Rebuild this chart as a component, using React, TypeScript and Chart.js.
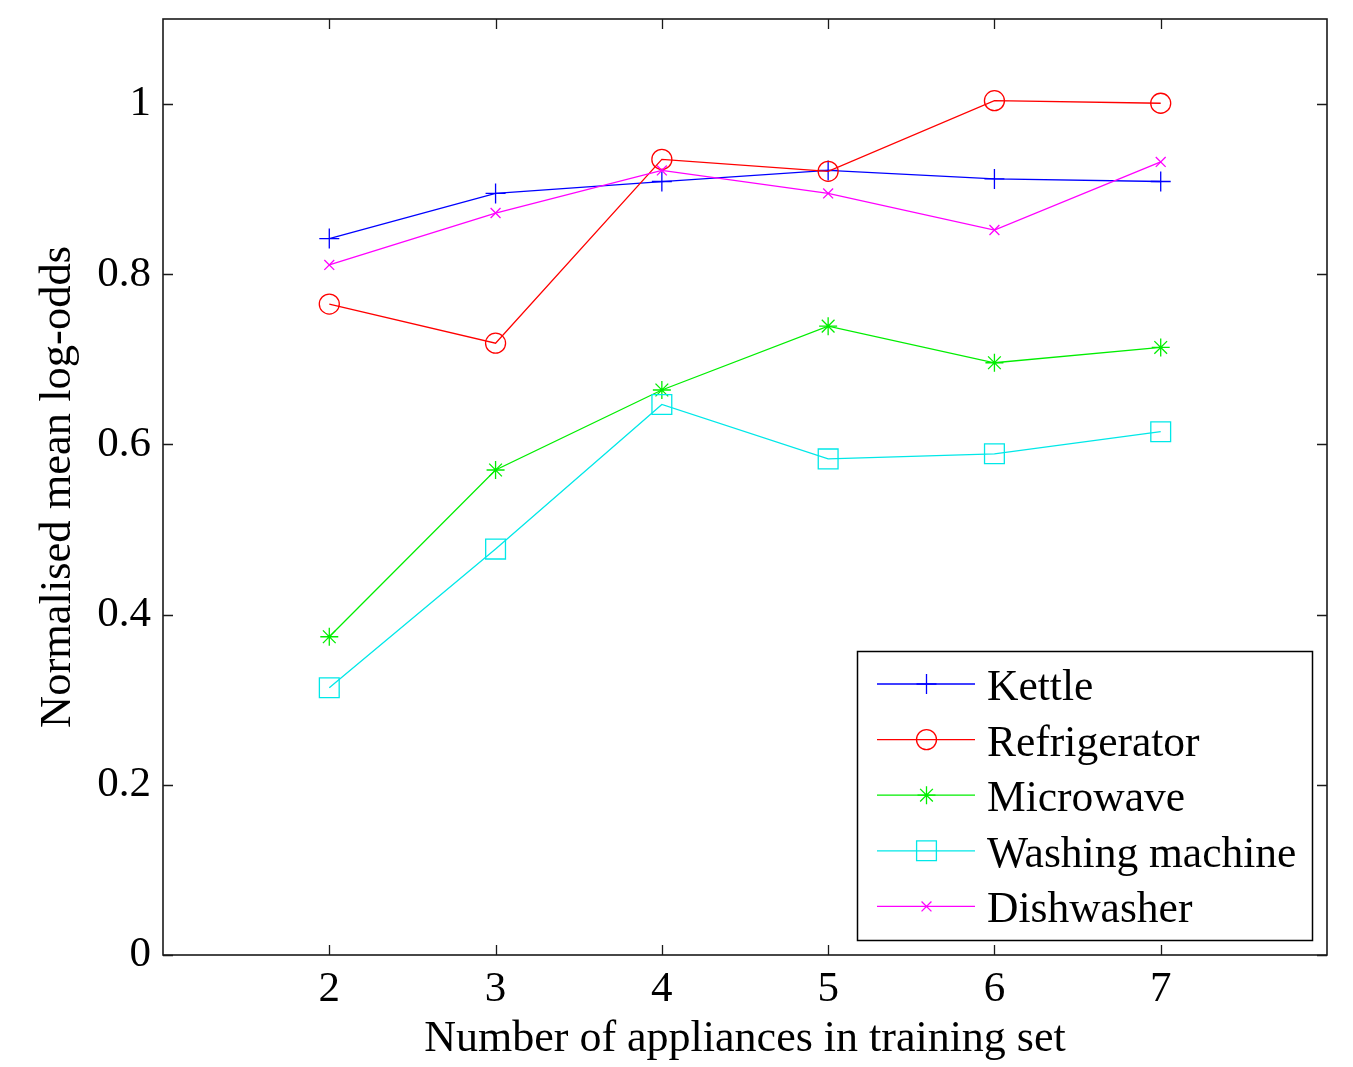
import React, { useEffect, useRef } from 'react';
import { Chart, registerables } from 'chart.js';
import { drawPoint } from 'chart.js/helpers';

Chart.register(...registerables);

// ---- data ----
const applianceCounts = [2, 3, 4, 5, 6, 7];
const kettle = [0.842, 0.895, 0.909, 0.922, 0.912, 0.909];
const refrigerator = [0.765, 0.719, 0.935, 0.921, 1.004, 1.001];
const microwave = [0.374, 0.570, 0.664, 0.739, 0.696, 0.714];
const washingMachine = [0.314, 0.477, 0.647, 0.583, 0.589, 0.615];
const dishwasher = [0.811, 0.872, 0.922, 0.895, 0.852, 0.932];
const seriesNames = ['Kettle', 'Refrigerator', 'Microwave', 'Washing machine', 'Dishwasher'];
const xTickValues = [2, 3, 4, 5, 6, 7];
const yTickValues = [0, 0.2, 0.4, 0.6, 0.8, 1];
const xTitle = 'Number of appliances in training set';
const yTitle = 'Normalised mean log-odds';

// ---- styles ----
const FONT = '"Liberation Serif", "Times New Roman", serif';
const seriesColors = ['#0000ff', '#ff0000', '#00ee00', '#00e8e8', '#ff00ff'];
const seriesMarkers = ['cross', 'circle', 'star', 'rect', 'crossRot'];
const markerRadius = [10, 10, 9, 14, 7];
const seriesValues = [kettle, refrigerator, microwave, washingMachine, dishwasher];

const matlabPlugin = {
  id: 'matlabFrame',
  afterDraw(chart: any) {
    const { ctx, chartArea: a, scales } = chart;
    const x = scales.x;
    const y = scales.y;
    ctx.save();
    ctx.strokeStyle = '#1a1a1a';
    ctx.lineWidth = 1.6;
    ctx.strokeRect(a.left, a.top, a.right - a.left, a.bottom - a.top);
    const tl = 10;
    ctx.lineWidth = 1.3;
    ctx.beginPath();
    yTickValues.forEach((v) => {
      const py = Math.round(y.getPixelForValue(v)) + 0.5;
      ctx.moveTo(a.left, py);
      ctx.lineTo(a.left + tl, py);
      ctx.moveTo(a.right, py);
      ctx.lineTo(a.right - tl, py);
    });
    xTickValues.forEach((v) => {
      const px = Math.round(x.getPixelForValue(v)) + 0.5;
      ctx.moveTo(px, a.bottom);
      ctx.lineTo(px, a.bottom - tl);
      ctx.moveTo(px, a.top);
      ctx.lineTo(px, a.top + tl);
    });
    ctx.stroke();

    // legend
    const lx = 857, ly = 651, lw = 455, lh = 289;
    ctx.fillStyle = '#ffffff';
    ctx.fillRect(lx, ly, lw, lh);
    ctx.strokeStyle = '#000000';
    ctx.lineWidth = 1.5;
    ctx.strokeRect(lx + 0.5, ly + 0.5, lw, lh);
    const rowStart = 684;
    const rowGap = 55.6;
    ctx.font = `43.5px ${FONT}`;
    ctx.textAlign = 'left';
    ctx.textBaseline = 'alphabetic';
    seriesNames.forEach((name, i) => {
      const ry = rowStart + i * rowGap;
      ctx.strokeStyle = seriesColors[i];
      ctx.lineWidth = 1.3;
      ctx.beginPath();
      ctx.moveTo(877, ry);
      ctx.lineTo(975, ry);
      ctx.stroke();
      ctx.fillStyle = 'rgba(0,0,0,0)';
      drawPoint(ctx, {
        pointStyle: seriesMarkers[i],
        radius: markerRadius[i],
        rotation: 0,
        borderWidth: 1.3,
      } as any, 926.5, ry);
      ctx.fillStyle = '#000000';
      ctx.fillText(name, 987, ry + 16);
    });
    ctx.restore();
  },
};

export default function App() {
  const canvasRef = useRef<HTMLCanvasElement | null>(null);

  useEffect(() => {
    const canvas = canvasRef.current;
    if (!canvas) return;
    const datasets = seriesNames.map((name, i) => ({
      label: name,
      data: applianceCounts.map((c, j) => ({ x: c, y: seriesValues[i][j] })),
      borderColor: seriesColors[i],
      backgroundColor: 'transparent',
      pointBackgroundColor: 'transparent',
      pointBorderColor: seriesColors[i],
      pointStyle: seriesMarkers[i],
      pointRadius: markerRadius[i],
      pointBorderWidth: 1.3,
      borderWidth: 1.3,
      tension: 0,
      clip: false as any,
      order: seriesNames.length - i,
    }));

    const chart = new Chart(canvas, {
      type: 'line',
      data: { datasets },
      options: {
        animation: false,
        responsive: false,
        devicePixelRatio: 1,
        layout: { padding: { top: 19, right: 26, left: 0, bottom: 0 } },
        plugins: {
          legend: { display: false },
          tooltip: { enabled: false },
          title: { display: false },
        },
        scales: {
          x: {
            type: 'linear',
            min: 1,
            max: 8,
            afterBuildTicks: (scale: any) => {
              scale.ticks = xTickValues.map((v) => ({ value: v }));
            },
            afterFit: (scale: any) => {
              scale.height = 112;
              scale.paddingLeft = 0;
              scale.paddingRight = 0;
              scale.paddingTop = 0;
              scale.paddingBottom = 0;
            },
            grid: { display: false, drawTicks: false },
            border: { display: false },
            ticks: {
              color: '#000',
              font: { family: FONT, size: 43 },
              padding: 9,
              maxRotation: 0,
              autoSkip: false,
              callback: (v: any) => String(v),
            },
            title: {
              display: true,
              text: xTitle,
              color: '#000',
              font: { family: FONT, size: 44 },
              padding: { top: 0, bottom: 1 },
            },
          },
          y: {
            type: 'linear',
            min: 0,
            max: 1.1,
            afterBuildTicks: (scale: any) => {
              scale.ticks = yTickValues.map((v) => ({ value: v }));
            },
            afterFit: (scale: any) => {
              scale.width = 163;
              scale.paddingLeft = 0;
              scale.paddingRight = 0;
              scale.paddingTop = 0;
              scale.paddingBottom = 0;
            },
            grid: { display: false, drawTicks: false },
            border: { display: false },
            ticks: {
              color: '#000',
              font: { family: FONT, size: 43 },
              padding: 12,
              autoSkip: false,
              callback: (v: any) => String(v),
            },
            title: {
              display: true,
              text: yTitle,
              color: '#000',
              font: { family: FONT, size: 44.5 },
              padding: { top: 32, bottom: 0 },
            },
          },
        },
      },
      plugins: [matlabPlugin],
    } as any);

    return () => chart.destroy();
  }, []);

  return (
    <div style={{ position: 'absolute', left: 0, top: 0, width: 1353, height: 1067, background: '#fff' }}>
      <canvas ref={canvasRef} width={1353} height={1067} style={{ display: 'block' }} />
    </div>
  );
}
